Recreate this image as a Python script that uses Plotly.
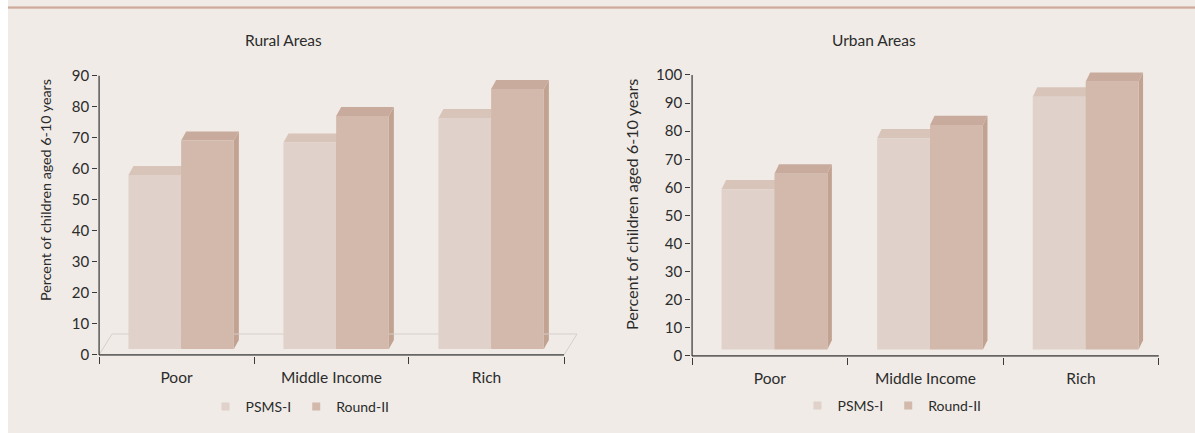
import plotly.graph_objects as go

# ---------------- data ----------------
categories = ["Poor", "Middle Income", "Rich"]
series_names = ["PSMS-I", "Round-II"]
rural_psms1 = [58.0, 68.5, 76.4]
rural_round2 = [69.1, 77.0, 85.7]
urban_psms1 = [59.3, 77.5, 92.3]
urban_round2 = [64.9, 82.2, 97.6]
rural_yticks = [0, 10, 20, 30, 40, 50, 60, 70, 80, 90]
urban_yticks = [0, 10, 20, 30, 40, 50, 60, 70, 80, 90, 100]
panel_titles = ["Rural Areas", "Urban Areas"]
y_title = "Percent of children aged 6-10 years"

# ---------------- style ----------------
W, H = 1195, 433
BG = "#f0ebe7"
AXIS = "#3a3a3a"
TEXT = "#2b2b2b"
FONT = "Lato"
FRONT = ["#e0d2ca", "#d2b9ac"]
TOP = ["#d8c4b9", "#c8ab9c"]
SIDE = ["#cdb4a7", "#c2a291"]
FLOOR = "#d6cfc9"
OFFSETS = [-0.31, 0.03]
BARW = 0.34

def xp(px):
    return px / W

def yp(py):
    return 1 - py / H

panels = [
    dict(name="rural", xa="x", ya="y", xa_key="xaxis", ya_key="yaxis",
         s1=rural_psms1, s2=rural_round2, yticks=rural_yticks,
         x0px=99, cw=155.0, y0px=355, ppu=3.103, ymax=90,
         xr=[-0.505, 2.6], yr=[-0.25, 90.3],
         base_px=6, depth_px=(5, 9), floor_px=(13, 21),
         title_px=(283, 40), ytitle_px=(45, 190), ytitle_size=14.3,
         legend="legend", legend_px=(300, 407)),
    dict(name="urban", xa="x2", ya="y2", xa_key="xaxis2", ya_key="yaxis2",
         s1=urban_psms1, s2=urban_round2, yticks=urban_yticks,
         x0px=692, cw=155.6, y0px=356, ppu=2.81, ymax=100,
         xr=[-0.505, 2.505], yr=[-0.3, 102.5],
         base_px=6.5, depth_px=(4.5, 9.3), floor_px=None,
         title_px=(874, 40), ytitle_px=(631, 204), ytitle_size=16.2,
         legend="legend2", legend_px=(892, 406)),
]

fig = go.Figure()
shapes = []
annotations = []

# white strip on the left and the top rule
shapes.append(dict(type="rect", xref="paper", yref="paper", x0=0, x1=xp(8), y0=0, y1=1,
                   fillcolor="white", line=dict(width=0), layer="below"))
shapes.append(dict(type="line", xref="paper", yref="paper", x0=xp(8), x1=1, y0=yp(6.5), y1=yp(6.5),
                   line=dict(color="#dcc5ba", width=1), layer="above"))
shapes.append(dict(type="line", xref="paper", yref="paper", x0=xp(8), x1=1, y0=yp(7.8), y1=yp(7.8),
                   line=dict(color="#c49580", width=1.3), layer="above"))

for pi, p in enumerate(panels):
    xa, ya = p["xa"], p["ya"]
    base = p["base_px"] / p["ppu"]
    dx = p["depth_px"][0] / p["cw"]
    dy = p["depth_px"][1] / p["ppu"]

    # domains from pixel anchors
    xl = p["x0px"] + (p["xr"][0] + 0.5) * p["cw"]
    xrpx = p["x0px"] + (p["xr"][1] + 0.5) * p["cw"]
    yb = p["y0px"] - p["yr"][0] * p["ppu"]
    yt = p["y0px"] - p["yr"][1] * p["ppu"]

    for si, (vals, sname) in enumerate(zip([p["s1"], p["s2"]], series_names)):
        fig.add_trace(go.Bar(
            x=[0, 1, 2], y=[v - base for v in vals], base=[base] * 3,
            offset=OFFSETS[si], width=BARW,
            marker=dict(color=FRONT[si], line=dict(width=0)),
            xaxis=xa, yaxis=ya, showlegend=False, name=sname,
            customdata=[[c, v] for c, v in zip(categories, vals)],
            hovertemplate="%{customdata[0]}: %{customdata[1]}<extra>" + sname + "</extra>",
            textposition="none",
        ))
        # 3D top and side faces
        for ci, v in enumerate(vals):
            x0 = ci + OFFSETS[si]
            x1 = x0 + BARW
            shapes.append(dict(
                type="path", xref=xa, yref=ya, layer="below",
                path=f"M {x1},{base} L {x1+dx},{base+dy} L {x1+dx},{v+dy} L {x1},{v} Z",
                fillcolor=SIDE[si], line=dict(width=0)))
            shapes.append(dict(
                type="path", xref=xa, yref=ya, layer="below",
                path=f"M {x0},{v} L {x0+dx},{v+dy} L {x1+dx},{v+dy} L {x1},{v} Z",
                fillcolor=TOP[si], line=dict(width=0)))

        # legend entries
        fig.add_trace(go.Scatter(
            x=[None], y=[None], mode="markers", name=sname,
            marker=dict(symbol="square", size=8, color=FRONT[si]),
            xaxis=xa, yaxis=ya, legend=p["legend"], showlegend=True,
        ))

    # floor (rural only)
    if p["floor_px"]:
        fdx = p["floor_px"][0] / p["cw"]
        fdy = p["floor_px"][1] / p["ppu"]
        shapes.append(dict(
            type="path", xref=xa, yref=ya, layer="below",
            path=f"M -0.5,0 L {-0.5+fdx},{fdy} L {2.5+fdx},{fdy} L 2.5,0",
            line=dict(color=FLOOR, width=1)))

    # axis lines drawn in data space
    shapes.append(dict(type="line", xref=xa, yref=ya, x0=-0.5, x1=-0.5, y0=0, y1=p["ymax"],
                       line=dict(color=AXIS, width=1.4), layer="above"))
    shapes.append(dict(type="line", xref=xa, yref=ya, x0=-0.5, x1=2.5, y0=0, y1=0,
                       line=dict(color=AXIS, width=1.4), layer="above"))

    fig.update_layout(**{
        p["xa_key"]: dict(
            domain=[xp(xl), xp(xrpx)], range=p["xr"], anchor=ya, automargin=False,
            showline=False, showgrid=False, zeroline=False,
            tickmode="array", tickvals=[0, 1, 2], ticktext=categories, ticks="",
            ticklabelstandoff=11,
            tickfont=dict(family=FONT, size=15.5, color=TEXT),
            minor=dict(tickmode="array", tickvals=[-0.5, 0.5, 1.5, 2.5], ticks="outside",
                       ticklen=7, tickwidth=1.2, tickcolor=AXIS, showgrid=False),
            fixedrange=True,
        ),
        p["ya_key"]: dict(
            domain=[yp(yb), yp(yt)], range=p["yr"], anchor=xa, automargin=False,
            showline=False, showgrid=False, zeroline=False,
            tickmode="array", tickvals=p["yticks"], ticks="outside", ticklen=5,
            tickwidth=1.2, tickcolor=AXIS,
            tickfont=dict(family=FONT, size=15, color=TEXT),
            fixedrange=True,
        ),
        p["legend"]: dict(
            orientation="h", x=xp(p["legend_px"][0]), y=yp(p["legend_px"][1]),
            xanchor="center", yanchor="middle", bgcolor="rgba(0,0,0,0)",
            font=dict(family=FONT, size=14, color=TEXT), itemwidth=30,
        ),
    })

    annotations.append(dict(text=panel_titles[pi], xref="paper", yref="paper",
                            x=xp(p["title_px"][0]), y=yp(p["title_px"][1]),
                            xanchor="center", yanchor="middle", showarrow=False,
                            font=dict(family=FONT, size=15.5, color=TEXT)))
    annotations.append(dict(text=y_title, xref="paper", yref="paper", textangle=-90,
                            x=xp(p["ytitle_px"][0]), y=yp(p["ytitle_px"][1]),
                            xanchor="center", yanchor="middle", showarrow=False,
                            font=dict(family=FONT, size=p["ytitle_size"], color=TEXT)))

fig.update_layout(
    width=W, height=H, margin=dict(l=0, r=0, t=0, b=0, pad=0),
    paper_bgcolor=BG, plot_bgcolor="rgba(0,0,0,0)",
    barmode="overlay", shapes=shapes, annotations=annotations,
    font=dict(family=FONT, color=TEXT),
)

fig.write_html("out.html")
